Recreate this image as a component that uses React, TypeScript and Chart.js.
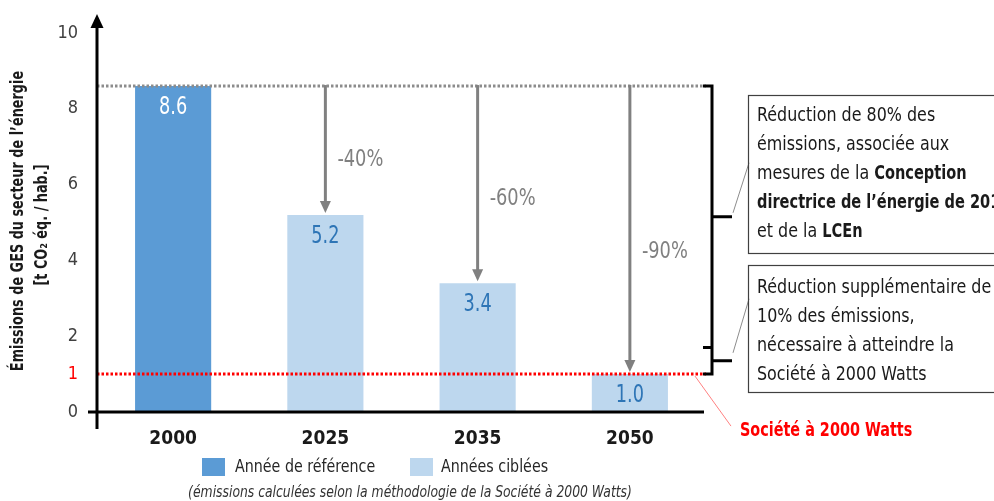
import React, { useEffect, useRef } from "react";
import { Chart, registerables } from "chart.js";

Chart.register(...registerables);

// ---------- data ----------
const categories = ["2000", "2025", "2035", "2050"];
const values = [8.6, 5.2, 3.4, 1.0];
const valueLabels = ["8.6", "5.2", "3.4", "1.0"];
const reductionLabels = ["", "-40%", "-60%", "-90%"];
const yTickValues = [0, 1, 2, 4, 6, 8, 10];
const baselineValue = 8.6;
const targetValue = 1;
const bracketSplitValue = 1.7;
const legendLabels = ["Année de référence", "Années ciblées"];
const yTitleLines = ["Émissions de GES du secteur de l’énergie", "[t CO₂ éq. / hab.]"];
const footnote = "(émissions calculées selon la méthodologie de la Société à 2000 Watts)";
const targetLabel = "Société à 2000 Watts";
const box1Lines: [string, string][][] = [
  [["n", "Réduction de 80% des"]],
  [["n", "émissions, associée aux"]],
  [["n", "mesures de la "], ["b", "Conception"]],
  [["b", "directrice de l’énergie de 2016"]],
  [["n", "et de la "], ["b", "LCEn"]],
];
const box2Lines: [string, string][][] = [
  [["n", "Réduction supplémentaire de"]],
  [["n", "10% des émissions,"]],
  [["n", "nécessaire à atteindre la"]],
  [["n", "Société à 2000 Watts"]],
];

// ---------- styles ----------
const FONT = "'Liberation Sans Narrow', 'DejaVu Sans Condensed', 'Arial Narrow', sans-serif";
const DARK_BLUE = "#5B9BD5";
const LIGHT_BLUE = "#BDD7EE";
const VALUE_BLUE = "#2E75B6";
const GREY = "#808080";
const RED = "#FF0000";
const barColors = [DARK_BLUE, LIGHT_BLUE, LIGHT_BLUE, LIGHT_BLUE];

function arrowHead(ctx: CanvasRenderingContext2D, x: number, tipY: number, dir: number, w: number, h: number) {
  ctx.beginPath();
  ctx.moveTo(x, tipY);
  ctx.lineTo(x - w / 2, tipY - dir * h);
  ctx.lineTo(x + w / 2, tipY - dir * h);
  ctx.closePath();
  ctx.fill();
}

// text drawn with a horizontal squeeze to imitate a condensed face
function txt(
  ctx: CanvasRenderingContext2D,
  s: string,
  x: number,
  y: number,
  sx: number,
  align: CanvasTextAlign = "left",
  rot = 0
) {
  ctx.save();
  ctx.translate(x, y);
  if (rot) ctx.rotate(rot);
  ctx.scale(sx, 1);
  ctx.textAlign = align;
  ctx.textBaseline = "middle";
  ctx.fillText(s, 0, 0);
  ctx.restore();
}

function drawRich(ctx: CanvasRenderingContext2D, segs: [string, string][], x: number, y: number, size: number, sx: number, sxb: number) {
  let cx = x;
  for (const [w, t] of segs) {
    const bold = w === "b";
    const k = bold ? sxb : sx;
    ctx.font = `${bold ? "bold " : ""}${size}px ${FONT}`;
    txt(ctx, t, cx, y, k, "left");
    cx += ctx.measureText(t).width * k;
  }
}

const overlay = {
  id: "overlay",
  afterDatasetsDraw(chart: any) {
    const ctx: CanvasRenderingContext2D = chart.ctx;
    const xs = chart.scales.x;
    const ys = chart.scales.y;
    const area = chart.chartArea;
    const y0 = ys.getPixelForValue(0);
    const yBase = ys.getPixelForValue(baselineValue);
    const yTarget = ys.getPixelForValue(targetValue);
    const lineEnd = area.right;
    ctx.save();

    // dotted reference lines
    ctx.lineWidth = 3;
    ctx.setLineDash([2.5, 2]);
    ctx.strokeStyle = "#8C8C8C";
    ctx.beginPath();
    ctx.moveTo(area.left, yBase);
    ctx.lineTo(lineEnd, yBase);
    ctx.stroke();
    ctx.strokeStyle = RED;
    ctx.beginPath();
    ctx.moveTo(area.left, yTarget);
    ctx.lineTo(lineEnd, yTarget);
    ctx.stroke();
    ctx.setLineDash([]);

    // axes
    ctx.strokeStyle = "#000";
    ctx.fillStyle = "#000";
    ctx.lineWidth = 3;
    ctx.beginPath();
    ctx.moveTo(area.left - 9, y0);
    ctx.lineTo(area.right - 2, y0);
    ctx.stroke();
    ctx.beginPath();
    ctx.moveTo(area.left, y0 + 17);
    ctx.lineTo(area.left, 24);
    ctx.stroke();
    arrowHead(ctx, area.left, 14, -1, 13, 14);

    // value labels
    ctx.font = `24px ${FONT}`;
    values.forEach((v, i) => {
      const x = xs.getPixelForValue(i);
      const y = ys.getPixelForValue(v);
      ctx.fillStyle = i === 0 ? "#FFFFFF" : VALUE_BLUE;
      txt(ctx, valueLabels[i], x, y + 22, 0.82, "center");
    });

    // reduction arrows
    ctx.strokeStyle = GREY;
    ctx.fillStyle = GREY;
    values.forEach((v, i) => {
      if (!reductionLabels[i]) return;
      const x = xs.getPixelForValue(i);
      const yEnd = ys.getPixelForValue(v) - 2;
      ctx.lineWidth = 3;
      ctx.beginPath();
      ctx.moveTo(x, yBase - 1);
      ctx.lineTo(x, yEnd - 10);
      ctx.stroke();
      arrowHead(ctx, x, yEnd, 1, 11, 12);
      ctx.font = `23px ${FONT}`;
      const ly = yBase + (yEnd - yBase) * 0.58;
      txt(ctx, reductionLabels[i], x + 12, ly, 0.86, "left");
    });

    // brackets
    const bx = area.right + 6;
    const ySplit = ys.getPixelForValue(bracketSplitValue);
    ctx.strokeStyle = "#000";
    ctx.lineWidth = 3;
    ctx.beginPath();
    ctx.moveTo(bx - 9, yBase);
    ctx.lineTo(bx, yBase);
    ctx.lineTo(bx, yTarget);
    ctx.lineTo(bx - 9, yTarget);
    ctx.moveTo(bx - 9, ySplit);
    ctx.lineTo(bx, ySplit);
    const m1 = (yBase + ySplit) / 2;
    const m2 = (ySplit + yTarget) / 2;
    ctx.moveTo(bx, m1);
    ctx.lineTo(bx + 20, m1);
    ctx.moveTo(bx, m2);
    ctx.lineTo(bx + 20, m2);
    ctx.stroke();

    // connector lines
    ctx.strokeStyle = "#8C8C8C";
    ctx.lineWidth = 1;
    ctx.beginPath();
    ctx.moveTo(bx + 21, m1 - 4);
    ctx.lineTo(bx + 37, m1 - 54);
    ctx.moveTo(bx + 21, m2 - 8);
    ctx.lineTo(bx + 37, m2 - 62);
    ctx.stroke();

    // boxes
    const boxX = bx + 36;
    ctx.strokeStyle = "#404040";
    ctx.lineWidth = 1.2;
    ctx.strokeRect(boxX + 0.5, 95.5, 300, 158);
    ctx.strokeRect(boxX + 0.5, 265.5, 300, 127);
    ctx.fillStyle = "#1A1A1A";
    box1Lines.forEach((ln, i) => drawRich(ctx, ln, boxX + 9, 116 + i * 29, 20, 0.885, 0.81));
    box2Lines.forEach((ln, i) => drawRich(ctx, ln, boxX + 9, 288 + i * 29, 20, 0.885, 0.81));

    // target label + leader
    ctx.strokeStyle = "#FF8080";
    ctx.lineWidth = 1;
    ctx.beginPath();
    ctx.moveTo(area.right - 11, yTarget + 2);
    ctx.lineTo(area.right + 25, yTarget + 52);
    ctx.stroke();
    ctx.fillStyle = RED;
    ctx.font = `bold 20px ${FONT}`;
    txt(ctx, targetLabel, area.right + 34, 431, 0.8, "left");

    // legend
    ctx.fillStyle = DARK_BLUE;
    ctx.fillRect(202, 458, 23, 18);
    ctx.fillStyle = LIGHT_BLUE;
    ctx.fillRect(410, 458, 23, 18);
    ctx.fillStyle = "#262626";
    ctx.font = `18px ${FONT}`;
    txt(ctx, legendLabels[0], 235, 467, 0.88, "left");
    txt(ctx, legendLabels[1], 441, 467, 0.88, "left");

    // footnote
    ctx.font = `italic 16px ${FONT}`;
    ctx.fillStyle = "#333333";
    txt(ctx, footnote, 410, 493, 0.86, "center");

    // y title
    ctx.fillStyle = "#1A1A1A";
    ctx.font = `bold 17px ${FONT}`;
    txt(ctx, yTitleLines[0], 19, 221, 0.84, "center", -Math.PI / 2);
    txt(ctx, yTitleLines[1], 43, 225, 0.84, "center", -Math.PI / 2);

    ctx.restore();
  },
};

export default function App() {
  const ref = useRef<HTMLCanvasElement | null>(null);
  useEffect(() => {
    if (!ref.current) return;
    const chart = new Chart(ref.current, {
      type: "bar",
      data: {
        labels: categories,
        datasets: [
          {
            data: values,
            backgroundColor: barColors,
            borderWidth: 0,
            categoryPercentage: 1,
            barPercentage: 0.5,
          },
        ],
      },
      options: {
        responsive: false,
        animation: false,
        events: [],
        layout: { padding: { left: 0, right: 288, top: 33, bottom: 0 } },
        plugins: { legend: { display: false }, tooltip: { enabled: false } },
        scales: {
          x: {
            grid: { display: false, drawTicks: false },
            border: { display: false },
            ticks: {
              color: "#1A1A1A",
              font: { family: FONT, size: 19, weight: "bold" },
              padding: 16,
            },
            afterFit: (s: any) => {
              s.height = 89;
            },
          },
          y: {
            min: 0,
            max: 10,
            grid: { display: false, drawTicks: false },
            border: { display: false },
            afterBuildTicks: (s: any) => {
              s.ticks = yTickValues.map((v) => ({ value: v }));
            },
            ticks: {
              color: (c: any) => (c.tick && c.tick.value === targetValue ? RED : "#404040"),
              font: { family: FONT, size: 18 },
              padding: 19,
              callback: (v: any) => String(v),
            },
            afterFit: (s: any) => {
              s.width = 97;
            },
          },
        },
      },
      plugins: [overlay],
    });
    return () => chart.destroy();
  }, []);
  return (
    <div style={{ position: "absolute", left: 0, top: 0, width: 994, height: 501, background: "#fff" }}>
      <canvas ref={ref} width={994} height={501} />
    </div>
  );
}
